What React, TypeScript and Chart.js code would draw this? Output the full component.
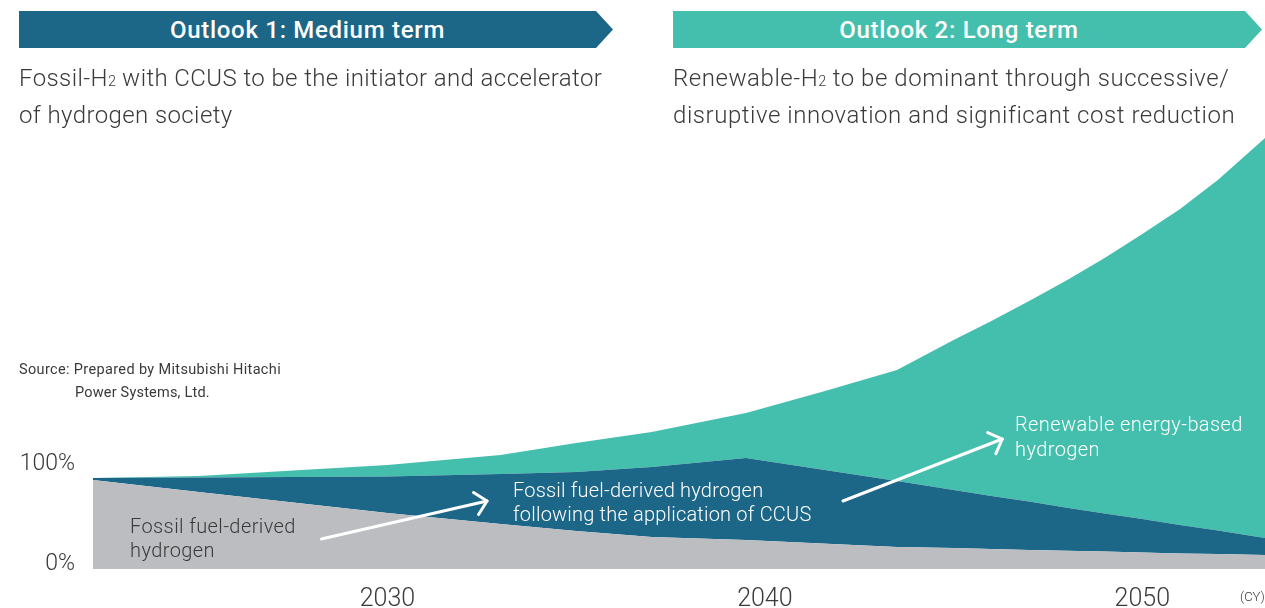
import React, { useEffect, useRef } from 'react';
import { Chart, registerables } from 'chart.js';

Chart.register(...registerables);

// ---- data (share of hydrogen supply) ----
const years = [2022.2, 2025, 2030, 2033, 2035, 2037, 2039.5, 2041.5, 2043.5, 2045, 2046, 2047, 2048, 2049, 2050, 2051, 2052, 2053.25];
const fossil = [89, 77, 56, 45, 38, 32, 29, 25.5, 22, 21, 20, 19, 18.3, 17.5, 16.5, 15.5, 15, 14];
const fossilCcus = [2, 14.5, 36.5, 50, 59, 70, 82, 74, 66, 58, 53, 48.5, 43, 38, 33.5, 28.5, 23.5, 17];
const renewable = [0, 1.5, 11.5, 19, 29, 35, 45, 77.5, 111, 150, 175, 200.5, 227.5, 255.5, 285, 316, 350.5, 400];
const xTickYears = [2030, 2040, 2050];
const yTickValues = [0, 100];
const seriesLabels = ['Fossil fuel-derived hydrogen', 'Fossil fuel-derived hydrogen following the application of CCUS', 'Renewable energy-based hydrogen'];

// annotation arrows in data coordinates [year, value]
const arrowFrom = [[2028.25, 30], [2042.07, 68]];
const arrowTo = [[2032.64, 68], [2046.29, 130]];

const GRAY = '#bcbdc0';
const BLUE = '#1c6687';
const TEAL = '#45bfad';
const TEXT = '#3a3a3a';
const FONT = 'Roboto, "Noto Sans", sans-serif';

const arrowPlugin = {
  id: 'arrows',
  afterDatasetsDraw(chart: any) {
    const { ctx, scales } = chart;
    const xs = scales.x;
    const ys = scales.y;
    ctx.save();
    ctx.strokeStyle = '#ffffff';
    ctx.lineWidth = 3;
    ctx.lineCap = 'round';
    ctx.lineJoin = 'round';
    for (let i = 0; i < arrowFrom.length; i++) {
      const x1 = xs.getPixelForValue(arrowFrom[i][0]);
      const y1 = ys.getPixelForValue(arrowFrom[i][1]);
      const x2 = xs.getPixelForValue(arrowTo[i][0]);
      const y2 = ys.getPixelForValue(arrowTo[i][1]);
      const ang = Math.atan2(y2 - y1, x2 - x1);
      const len = 16;
      const spread = Math.PI / 4;
      ctx.beginPath();
      ctx.moveTo(x1, y1);
      ctx.lineTo(x2, y2);
      ctx.stroke();
      ctx.beginPath();
      ctx.moveTo(x2 - len * Math.cos(ang - spread), y2 - len * Math.sin(ang - spread));
      ctx.lineTo(x2, y2);
      ctx.lineTo(x2 - len * Math.cos(ang + spread), y2 - len * Math.sin(ang + spread));
      ctx.stroke();
    }
    ctx.restore();
  },
};

export default function App() {
  const canvasRef = useRef<HTMLCanvasElement | null>(null);

  useEffect(() => {
    if (!canvasRef.current) return;
    const toPts = (arr: number[]) => arr.map((v, i) => ({ x: years[i], y: v }));
    const chart = new Chart(canvasRef.current, {
      type: 'line',
      data: {
        datasets: [
          { label: seriesLabels[0], data: toPts(fossil), backgroundColor: GRAY, borderWidth: 0, fill: 'origin', pointRadius: 0 },
          { label: seriesLabels[1], data: toPts(fossilCcus), backgroundColor: BLUE, borderWidth: 0, fill: '-1', pointRadius: 0 },
          { label: seriesLabels[2], data: toPts(renewable), backgroundColor: TEAL, borderWidth: 0, fill: '-1', pointRadius: 0 },
        ],
      },
      options: {
        animation: false,
        responsive: false,
        devicePixelRatio: 1,
        layout: { padding: { top: 129, left: 0, right: 0, bottom: 0 } },
        plugins: { legend: { display: false }, tooltip: { enabled: false } },
        elements: { line: { tension: 0, borderWidth: 0 }, point: { radius: 0 } },
        scales: {
          x: {
            type: 'linear',
            min: years[0],
            max: years[years.length - 1],
            grid: { display: false, drawTicks: false },
            border: { display: false },
            afterBuildTicks: (axis: any) => {
              axis.ticks = xTickYears.map((v) => ({ value: v }));
            },
            afterFit: (axis: any) => {
              axis.height = 39;
            },
            ticks: {
              callback: (v: any) => String(v),
              font: { family: FONT, size: 25, weight: '300' },
              color: TEXT,
              padding: 16,
              maxRotation: 0,
              autoSkip: false,
            },
          },
          y: {
            stacked: true,
            min: 0,
            max: 440,
            grid: { display: false, drawTicks: false },
            border: { display: false },
            afterBuildTicks: (axis: any) => {
              axis.ticks = yTickValues.map((v) => ({ value: v }));
            },
            afterFit: (axis: any) => {
              axis.width = 93;
            },
            ticks: {
              callback: (v: any) => v + '%',
              font: { family: FONT, size: 23, weight: '300' },
              color: TEXT,
              padding: 18,
              labelOffset: -5,
            },
          },
        },
      },
      plugins: [arrowPlugin],
    } as any);
    return () => chart.destroy();
  }, []);

  const sub = (t: string) => <span style={{ fontSize: '0.6em', letterSpacing: 0, lineHeight: 0 }}>{t}</span>;

  const subtitle: React.CSSProperties = { position: 'absolute', top: 60, fontSize: 24, lineHeight: '37px', fontWeight: 300, letterSpacing: '0.4px', color: TEXT, whiteSpace: 'nowrap' };
  const header: React.CSSProperties = { height: 37, lineHeight: '39px', textAlign: 'center', color: '#fff', fontSize: 24, fontWeight: 500, letterSpacing: '0.7px' };

  return (
    <div style={{ position: 'absolute', left: 0, top: 0, width: 1265, height: 608, overflow: 'hidden', background: '#fff', fontFamily: FONT }}>
      <canvas ref={canvasRef} width={1265} height={608} style={{ position: 'absolute', left: 0, top: 0, width: 1265, height: 608 }} />

      <div style={{ position: 'absolute', left: 19, top: 11, width: 594, height: 37, background: BLUE, clipPath: 'polygon(0 0, 577px 0, 594px 50%, 577px 100%, 0 100%)' }}>
        <div style={{ ...header, width: 577 }}>Outlook 1: Medium term</div>
      </div>
      <div style={{ position: 'absolute', left: 673, top: 11, width: 589, height: 37, background: TEAL, clipPath: 'polygon(0 0, 572px 0, 589px 50%, 572px 100%, 0 100%)' }}>
        <div style={{ ...header, width: 572 }}>Outlook 2: Long term</div>
      </div>

      <div style={{ ...subtitle, left: 19 }}>
        Fossil-H{sub('2')} with CCUS to be the initiator and accelerator<br />of hydrogen society
      </div>
      <div style={{ ...subtitle, left: 673, letterSpacing: '0.55px' }}>
        Renewable-H{sub('2')} to be dominant through successive/<br />disruptive innovation and significant cost reduction
      </div>

      <div style={{ position: 'absolute', left: 19, top: 358, fontSize: 14.5, lineHeight: '23px', fontWeight: 400, letterSpacing: '0.35px', color: TEXT, whiteSpace: 'nowrap' }}>
        <div>Source: Prepared by Mitsubishi Hitachi</div>
        <div style={{ paddingLeft: 56, letterSpacing: '0.2px' }}>Power Systems, Ltd.</div>
      </div>

      <div style={{ position: 'absolute', left: 130, top: 514, fontSize: 20, lineHeight: '24px', fontWeight: 300, letterSpacing: '0.4px', color: TEXT, whiteSpace: 'nowrap' }}>
        Fossil fuel-derived<br />hydrogen
      </div>
      <div style={{ position: 'absolute', left: 513, top: 478, fontSize: 20, lineHeight: '24px', fontWeight: 300, letterSpacing: '0.2px', color: '#fff', whiteSpace: 'nowrap' }}>
        Fossil fuel-derived hydrogen<br />following the application of CCUS
      </div>
      <div style={{ position: 'absolute', left: 1015, top: 412, fontSize: 20, lineHeight: '25px', fontWeight: 300, letterSpacing: '0.4px', color: '#fff', whiteSpace: 'nowrap' }}>
        Renewable energy-based<br />hydrogen
      </div>

      <div style={{ position: 'absolute', left: 1240, top: 589, fontSize: 13, lineHeight: '16px', fontWeight: 300, color: TEXT, whiteSpace: 'nowrap' }}>(CY)</div>
    </div>
  );
}
